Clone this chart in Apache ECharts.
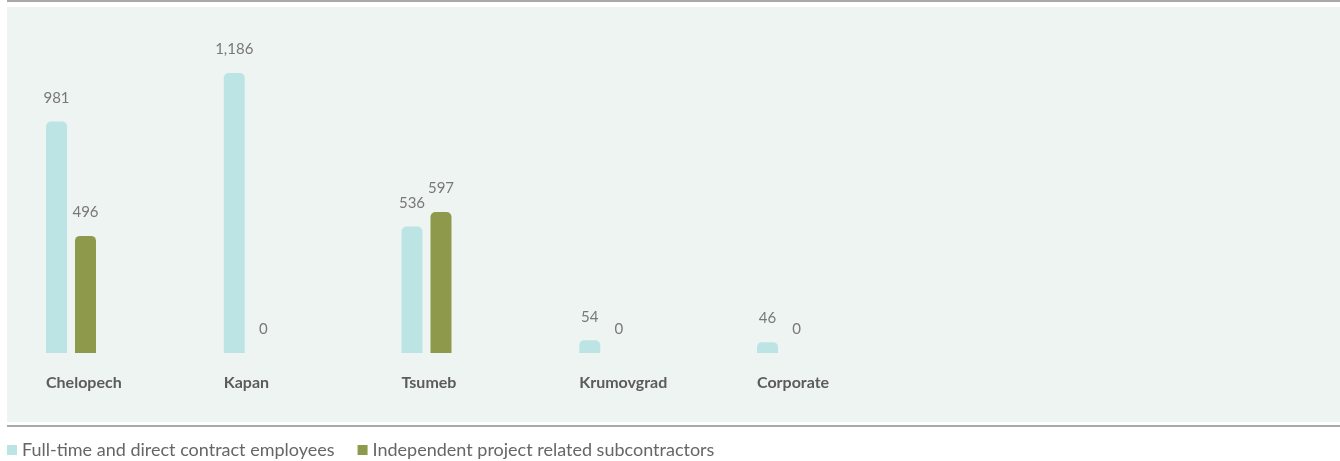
<!DOCTYPE html>
<html>
<head>
<meta charset="utf-8">
<script src="https://cdn.jsdelivr.net/npm/echarts@6/dist/echarts.min.js"></script>
<style>
  html, body { margin: 0; padding: 0; background: #ffffff; }
  #chart { width: 1340px; height: 461px; }
</style>
</head>
<body>
<div id="chart"></div>
<script>
// Workforce by site
const categories = ['Chelopech', 'Kapan', 'Tsumeb', 'Krumovgrad', 'Corporate'];
const seriesNames = ['Full-time and direct contract employees', 'Independent project related subcontractors'];
const employees = [981, 1186, 536, 54, 46];
const subcontractors = [496, 0, 597, 0, 0];

const TEAL = '#bde4e5';
const OLIVE = '#8f994b';
const FONT = 'Lato, "Open Sans", sans-serif';

const chart = echarts.init(document.getElementById('chart'), null, { renderer: 'canvas' });

const valueLabel = {
  show: true,
  position: 'top',
  distance: 16,
  fontFamily: FONT,
  fontSize: 15,
  color: '#787878',
  formatter: p => Number(p.value).toLocaleString('en-US')
};

chart.setOption({
  animation: false,
  backgroundColor: '#ffffff',
  graphic: [
    { type: 'rect', left: 7, top: 7, shape: { width: 1333, height: 415 }, style: { fill: '#eef4f1' }, z: -10 },
    { type: 'rect', left: 7, top: 0, shape: { width: 1333, height: 2 }, style: { fill: '#a9a9a9' }, z: -10 },
    { type: 'rect', left: 7, top: 425, shape: { width: 1333, height: 2 }, style: { fill: '#a9a9a9' }, z: -10 }
  ],
  legend: {
    left: 7,
    top: 441,
    padding: 0,
    itemWidth: 10,
    itemHeight: 10,
    itemGap: 23,
    icon: 'rect',
    textStyle: { fontFamily: FONT, fontSize: 18, color: '#666666' },
    data: seriesNames
  },
  grid: [
    { left: 71, top: 22.5, width: 711, height: 330.5 },
    { left: 46, top: 22.5, width: 711, height: 330.5 }
  ],
  xAxis: [
    {
      type: 'category', gridIndex: 0, data: categories, boundaryGap: false,
      axisLine: { show: false }, axisTick: { show: false }, axisLabel: { show: false }, splitLine: { show: false }
    },
    {
      type: 'category', gridIndex: 1, data: categories, boundaryGap: false,
      axisLine: { show: false }, axisTick: { show: false }, splitLine: { show: false },
      axisLabel: {
        show: true, align: 'left', margin: 22, interval: 0,
        fontFamily: FONT, fontSize: 16, fontWeight: 'bold', color: '#5b5b5b'
      }
    }
  ],
  yAxis: [
    { type: 'value', gridIndex: 0, min: 0, max: 1400, show: false, splitLine: { show: false } },
    { type: 'value', gridIndex: 1, min: 0, max: 1400, show: false, splitLine: { show: false } }
  ],
  series: [
    {
      name: seriesNames[0], type: 'bar', xAxisIndex: 0, yAxisIndex: 0,
      data: employees, barWidth: 21, barGap: '38%',
      itemStyle: { color: TEAL, borderRadius: [5, 5, 0, 0] },
      label: valueLabel
    },
    {
      name: seriesNames[1], type: 'bar', xAxisIndex: 0, yAxisIndex: 0,
      data: subcontractors, barWidth: 21, barGap: '38%',
      itemStyle: { color: OLIVE, borderRadius: [5, 5, 0, 0] },
      label: valueLabel
    }
  ]
});
</script>
</body>
</html>
